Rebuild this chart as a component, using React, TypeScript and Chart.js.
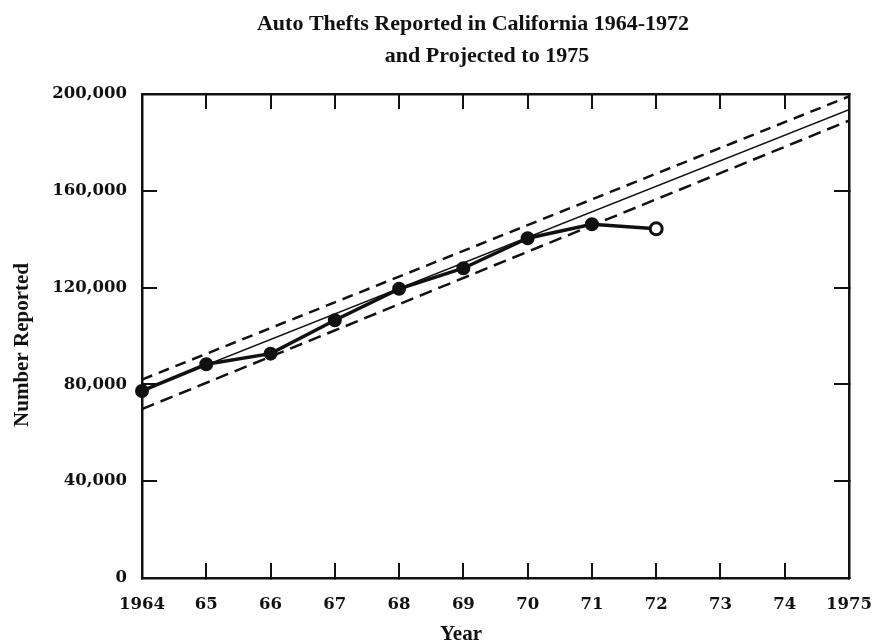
import React, { useEffect, useRef } from "react";
import { Chart, registerables } from "chart.js";

Chart.register(...registerables);

// ---- data ----
const years = [1964, 1965, 1966, 1967, 1968, 1969, 1970, 1971, 1972];
const thefts = [77300, 88300, 92700, 106500, 119500, 128000, 140400, 146200, 144300];
const projectionYears = [1964, 1975];
const trendLine = [77500, 193500];
const upperLimit = [82000, 199000];
const lowerLimit = [69800, 189000];
const yearTickLabels = ["1964", "65", "66", "67", "68", "69", "70", "71", "72", "73", "74", "1975"];
const titleLines = ["Auto Thefts Reported in California 1964-1972", "and Projected to 1975"];
const xTitle = "Year";
const yTitle = "Number Reported";

const INK = "#111";

const textPlugin = {
  id: "sceneText",
  afterDraw(chart: any) {
    const ctx = chart.ctx;
    ctx.save();
    ctx.fillStyle = INK;
    ctx.textAlign = "center";
    ctx.textBaseline = "alphabetic";
    ctx.font = "bold 22px 'Liberation Serif'";
    ctx.fillText(titleLines[0], 473, 30);
    ctx.fillText(titleLines[1], 487, 62);
    ctx.font = "bold 21px 'Liberation Serif'";
    ctx.fillText(xTitle, 461, 640);
    ctx.translate(28, 345);
    ctx.rotate(-Math.PI / 2);
    ctx.fillText(yTitle, 0, 0);
    ctx.restore();
  },
};

const tickFont = { family: "'DejaVu Serif'", size: 16.5, weight: "bold" as const };

function App() {
  const ref = useRef<HTMLCanvasElement | null>(null);

  useEffect(() => {
    if (!ref.current) return;
    const gridOpts = {
      display: true,
      drawOnChartArea: false,
      drawTicks: true,
      tickLength: -15,
      color: INK,
      lineWidth: 2,
    };
    const borderOpts = { display: true, color: INK, width: 2.5 };
    const lastIdx = years.length - 1;
    const chart = new Chart(ref.current, {
      type: "line",
      data: {
        datasets: [
          {
            label: "Reported",
            data: years.map((y, i) => ({ x: y, y: thefts[i] })),
            borderColor: INK,
            borderWidth: 3.5,
            pointRadius: 6,
            pointBackgroundColor: years.map((_, i) => (i === lastIdx ? "#fff" : INK)),
            pointBorderColor: INK,
            pointBorderWidth: years.map((_, i) => (i === lastIdx ? 3 : 2)),
            tension: 0,
            clip: false,
          },
          {
            label: "Trend",
            data: projectionYears.map((y, i) => ({ x: y, y: trendLine[i] })),
            borderColor: INK,
            borderWidth: 1.5,
            pointRadius: 0,
            tension: 0,
          },
          {
            label: "Upper",
            data: projectionYears.map((y, i) => ({ x: y, y: upperLimit[i] })),
            borderColor: INK,
            borderWidth: 2.5,
            borderDash: [11, 7],
            pointRadius: 0,
            tension: 0,
          },
          {
            label: "Lower",
            data: projectionYears.map((y, i) => ({ x: y, y: lowerLimit[i] })),
            borderColor: INK,
            borderWidth: 2.5,
            borderDash: [13, 7],
            pointRadius: 0,
            tension: 0,
          },
        ],
      },
      options: {
        animation: false,
        responsive: false,
        events: [],
        layout: { padding: { left: 0, right: 24, top: 94, bottom: 0 } },
        plugins: { legend: { display: false }, tooltip: { enabled: false }, title: { display: false } },
        scales: {
          x: {
            type: "linear",
            position: "bottom",
            min: 1964,
            max: 1975,
            ticks: {
              stepSize: 1,
              autoSkip: false,
              maxRotation: 0,
              padding: 32,
              color: INK,
              font: tickFont,
              callback: (v: any) => yearTickLabels[Math.round(Number(v)) - 1964] ?? "",
            },
            grid: gridOpts,
            border: borderOpts,
            afterFit: (s: any) => {
              s.height = 65;
              s.paddingLeft = 0;
              s.paddingRight = 0;
            },
          },
          x2: {
            type: "linear",
            position: "top",
            min: 1964,
            max: 1975,
            ticks: { stepSize: 1, display: false },
            grid: gridOpts,
            border: borderOpts,
            afterFit: (s: any) => {
              s.height = 0;
              s.paddingLeft = 0;
              s.paddingRight = 0;
            },
          },
          y: {
            type: "linear",
            position: "left",
            min: 0,
            max: 200000,
            ticks: {
              stepSize: 40000,
              padding: 30,
              color: INK,
              font: tickFont,
              callback: (v: any) => Number(v).toLocaleString("en-US"),
            },
            grid: gridOpts,
            border: borderOpts,
            afterFit: (s: any) => {
              s.width = 142;
              s.paddingTop = 0;
              s.paddingBottom = 0;
            },
          },
          y2: {
            type: "linear",
            position: "right",
            min: 0,
            max: 200000,
            ticks: { stepSize: 40000, display: false },
            grid: gridOpts,
            border: borderOpts,
            afterFit: (s: any) => {
              s.width = 0;
              s.paddingTop = 0;
              s.paddingBottom = 0;
            },
          },
        },
      },
      plugins: [textPlugin],
    });
    return () => chart.destroy();
  }, []);

  return (
    <div style={{ position: "absolute", left: 0, top: 0, width: 873, height: 643, background: "#fff" }}>
      <canvas ref={ref} width={873} height={643} style={{ display: "block" }} />
    </div>
  );
}

export default App;
